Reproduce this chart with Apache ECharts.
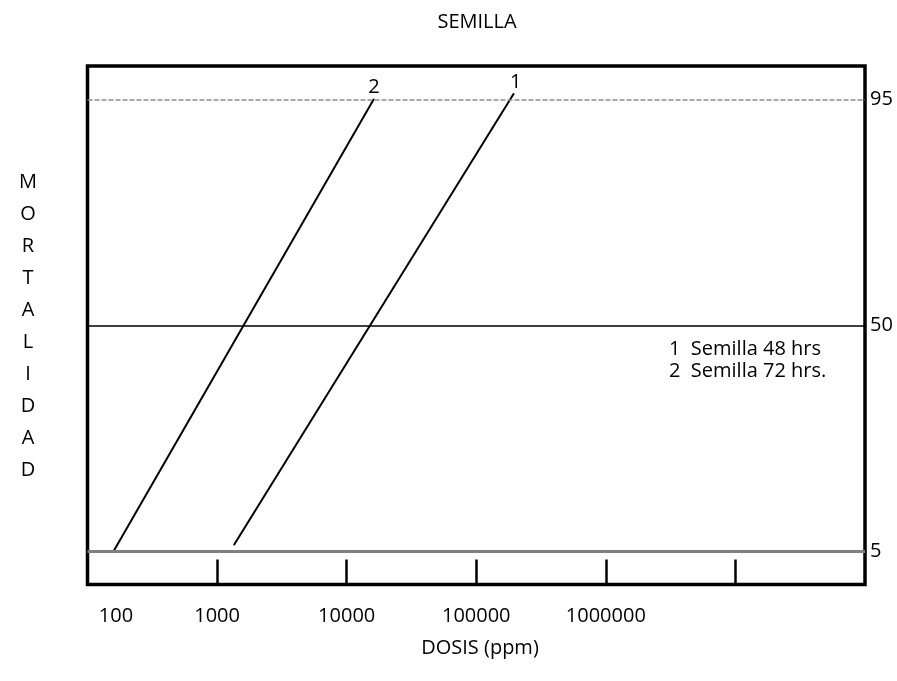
<!DOCTYPE html>
<html>
<head>
<meta charset="utf-8">
<script src="https://cdn.jsdelivr.net/npm/echarts@6/dist/echarts.min.js"></script>
<style>html,body{margin:0;padding:0;background:#fff}#c{width:897px;height:681px}</style>
</head>
<body>
<div id="c"></div>
<script>
// ---- data ----
var titleText = 'SEMILLA';
var xAxisTitle = 'DOSIS (ppm)';
var yAxisTitle = ['M','O','R','T','A','L','I','D','A','D'];
// x axis in log10(dose)
var xTickLogs = [3, 4, 5, 6, 7];
var xLabelLogs = [2.22, 3, 4, 5, 6];
var xLabelTexts = ['100', '1000', '10000', '100000', '1000000'];
// y axis: mortality (%) on a probit scale
var yRefMortality = [5, 50, 95];
var yRefLabels = ['5', '50', '95'];
// series 1: Semilla 48 hrs
var s1Name = '1';
var s1LogDose = [3.13, 5.29];
var s1Mortality = [5.5, 95.4];
// series 2: Semilla 72 hrs
var s2Name = '2';
var s2LogDose = [2.20, 4.21];
var s2Mortality = [5, 95];
var legendLines = ['1  Semilla 48 hrs', '2  Semilla 72 hrs.'];

// probit transform (inverse standard normal CDF, Acklam)
function probit(pct) {
  var p = pct / 100;
  var a = [-3.969683028665376e+01, 2.209460984245205e+02, -2.759285104469687e+02, 1.383577518672690e+02, -3.066479806614716e+01, 2.506628277459239e+00];
  var b = [-5.447609879822406e+01, 1.615858368580409e+02, -1.556989798598866e+02, 6.680131188771972e+01, -1.328068155288572e+01];
  var c = [-7.784894002430293e-03, -3.223964580411365e-01, -2.400758277161838e+00, -2.549732539343734e+00, 4.374664141464968e+00, 2.938163982698783e+00];
  var d = [7.784695709041462e-03, 3.224671290700398e-01, 2.445134137142996e+00, 3.754408661907416e+00];
  var plow = 0.02425, q, r;
  if (p < plow) {
    q = Math.sqrt(-2 * Math.log(p));
    return (((((c[0]*q+c[1])*q+c[2])*q+c[3])*q+c[4])*q+c[5]) / ((((d[0]*q+d[1])*q+d[2])*q+d[3])*q+1);
  } else if (p <= 1 - plow) {
    q = p - 0.5; r = q*q;
    return (((((a[0]*r+a[1])*r+a[2])*r+a[3])*r+a[4])*r+a[5])*q / (((((b[0]*r+b[1])*r+b[2])*r+b[3])*r+b[4])*r+1);
  } else {
    q = Math.sqrt(-2 * Math.log(1 - p));
    return -(((((c[0]*q+c[1])*q+c[2])*q+c[3])*q+c[4])*q+c[5]) / ((((d[0]*q+d[1])*q+d[2])*q+d[3])*q+1);
  }
}

var FONT = '"Open Sans", "Noto Sans", sans-serif';
var FS = 20;

function buildData(xs, ys, name, off) {
  return xs.map(function (x, i) {
    var item = { value: [x, probit(ys[i])] };
    if (i === xs.length - 1) {
      item.label = { show: true, position: 'top', distance: 1, offset: off, formatter: name,
        color: '#000', fontSize: FS, fontFamily: FONT };
    }
    return item;
  });
}

var yRefVals = yRefMortality.map(probit);

var chart = echarts.init(document.getElementById('c'), null, { renderer: 'canvas' });
chart.setOption({
  animation: false,
  backgroundColor: '#fff',
  textStyle: { fontFamily: FONT },
  grid: { left: 87.5, right: 32, top: 66, bottom: 96.5, show: true, borderColor: '#000', borderWidth: 3.5,
    backgroundColor: 'transparent', containLabel: false, outerBoundsMode: 'none' },
  xAxis: {
    type: 'value', min: 2, max: 8, position: 'bottom',
    axisLine: { show: false, onZero: false },
    splitLine: { show: false },
    axisTick: { show: true, inside: true, length: 25, customValues: xTickLogs,
      lineStyle: { color: '#000', width: 2.5 } },
    axisLabel: { show: true, customValues: xLabelLogs, margin: 22, color: '#000', fontSize: FS, fontFamily: FONT,
      formatter: function (v) {
        for (var i = 0; i < xLabelLogs.length; i++) if (Math.abs(xLabelLogs[i] - v) < 1e-6) return xLabelTexts[i];
        return '';
      } }
  },
  yAxis: {
    type: 'value', min: -1.885, max: 1.885, position: 'right',
    axisLine: { show: false, onZero: false }, axisTick: { show: false }, splitLine: { show: false },
    axisLabel: { show: true, customValues: yRefVals, margin: 5, color: '#000', fontSize: FS, fontFamily: FONT,
      formatter: function (v) {
        for (var i = 0; i < yRefVals.length; i++) if (Math.abs(yRefVals[i] - v) < 1e-6) return yRefLabels[i];
        return '';
      } }
  },
  series: [
    {
      name: s2Name, type: 'line', data: buildData(s2LogDose, s2Mortality, s2Name, [0, 0]),
      symbol: 'circle', symbolSize: 1, showSymbol: true, itemStyle: { color: '#000' },
      lineStyle: { color: '#000', width: 2 }, silent: true, z: 3,
      markLine: {
        silent: true, symbol: 'none', label: { show: false }, animation: false,
        data: [
          { yAxis: yRefVals[2], lineStyle: { color: '#8c8c8c', width: 1.5, type: [5, 2] } },
          { yAxis: yRefVals[1], lineStyle: { color: '#000', width: 1.5, type: 'solid' } },
          { yAxis: yRefVals[0], lineStyle: { color: '#808080', width: 3, type: 'solid' } }
        ]
      }
    },
    {
      name: s1Name, type: 'line', data: buildData(s1LogDose, s1Mortality, s1Name, [2, 0]),
      symbol: 'circle', symbolSize: 1, showSymbol: true, itemStyle: { color: '#000' },
      lineStyle: { color: '#000', width: 2 }, silent: true, z: 3
    }
  ],
  graphic: [
    { type: 'text', x: 477, y: 22, style: { text: titleText, font: FS + 'px ' + FONT, fill: '#000', textAlign: 'center', textVerticalAlign: 'middle' } },
    { type: 'text', x: 480, y: 648, style: { text: xAxisTitle, font: FS + 'px ' + FONT, fill: '#000', textAlign: 'center', textVerticalAlign: 'middle' } },
    { type: 'text', x: 28, y: 166, style: { text: yAxisTitle.join('\n'), font: FS + 'px ' + FONT, fill: '#000', textAlign: 'center', textVerticalAlign: 'top', lineHeight: 32 } },
    { type: 'text', x: 669, y: 338, style: { text: legendLines.join('\n'), font: FS + 'px ' + FONT, fill: '#000', textAlign: 'left', textVerticalAlign: 'top', lineHeight: 22 } }
  ]
});
</script>
</body>
</html>
